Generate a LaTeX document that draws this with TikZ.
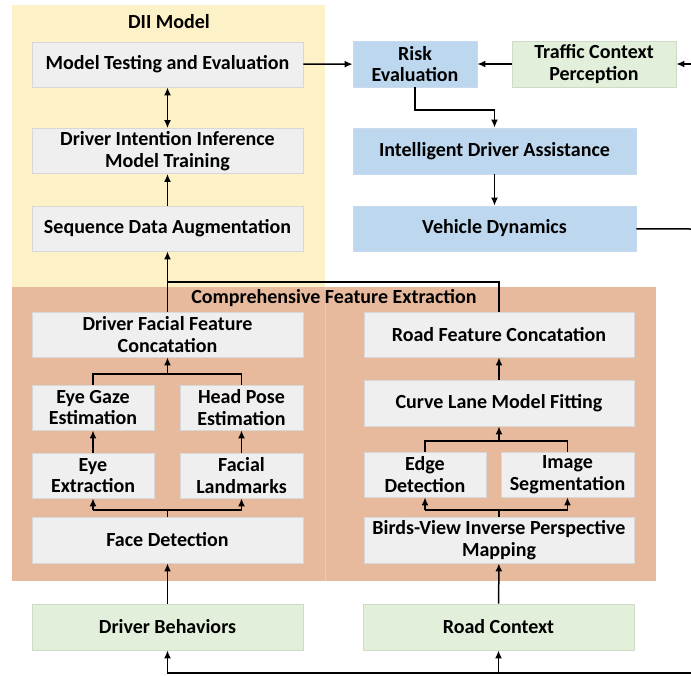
\documentclass[tikz,border=0pt]{standalone}
\usepackage{fontspec}
\setmainfont{Carlito}
\usetikzlibrary{
    arrows.meta,
    positioning,
    backgrounds
}
\definecolor{diiyellow}{RGB}{253,241,199}
\definecolor{cfepeach}{RGB}{231,186,158}
\definecolor{cfeedge}{RGB}{238,200,178}
\definecolor{boxgray}{RGB}{239,239,239}
\definecolor{boxline}{RGB}{215,215,215}
\definecolor{assistblue}{RGB}{189,215,238}
\definecolor{assistline}{RGB}{200,218,235}
\definecolor{inputgreen}{RGB}{226,239,218}
\definecolor{inputline}{RGB}{205,220,195}

\begin{document}
\begin{tikzpicture}[x=1pt, y=-1pt,
    font=\fontsize{20}{21.5}\selectfont\bfseries,
    box/.style={
        rectangle,
        draw=boxline,
        fill=boxgray,
        line width=0.8pt,
        align=center,
        inner sep=0pt,
        minimum height=45pt
    },
    bluebox/.style={box, draw=assistline, fill=assistblue},
    greenbox/.style={box, draw=inputline, fill=inputgreen},
    title/.style={font=\fontsize{20}{21.5}\selectfont\bfseries},
    arrow/.style={-{Latex[length=8pt,width=7pt]}, line width=1.5pt, black},
    dblarrow/.style={{Latex[length=8pt,width=7pt]}-{Latex[length=8pt,width=7pt]}, line width=1.5pt, black},
    line/.style={line width=1.5pt, black}
]
\useasboundingbox (0,0) rectangle (691,675);

% ===== background panels =====
\fill[diiyellow] (12,5) rectangle (325,287);
\fill[cfepeach] (12,287) rectangle (325,581);
\fill[cfepeach] (325,287) rectangle (656,581);
\draw[cfeedge, line width=0.6pt] (325,287) -- (325,581);
\node[title] (diit) at (169,22) {DII Model};
\node[title] (cfet) at (334,298) {Comprehensive Feature Extraction};

% ===== DII model =====
\node[box, minimum width=271pt] (mte) at (167.5,64.5) {Model Testing and Evaluation};
\node[box, minimum width=271pt] (diim) at (167.5,151) {Driver Intention Inference\\Model Training};
\node[box, minimum width=271pt] (sda) at (167.5,228.5) {Sequence Data Augmentation};

% ===== assistance chain =====
\node[bluebox, minimum width=124pt, minimum height=46pt] (risk) at (415,64) {Risk\\Evaluation};
\node[greenbox, minimum width=164pt, minimum height=46pt] (traffic) at (594,64) {Traffic Context\\Perception};
\node[bluebox, minimum width=283pt, minimum height=46pt] (ida) at (494.5,151) {Intelligent Driver Assistance};
\node[bluebox, minimum width=283pt] (vd) at (494.5,228.5) {Vehicle Dynamics};

% ===== driver features =====
\node[box, minimum width=271pt] (dffc) at (167.5,334.5) {Driver Facial Feature\\Concatation};
\node[box, minimum width=122pt] (gaze) at (93,407.5) {Eye Gaze\\Estimation};
\node[box, minimum width=123pt] (head) at (241.5,407.5) {Head Pose\\Estimation};
\node[box, minimum width=122pt] (eyeext) at (93,475.5) {Eye\\Extraction};
\node[box, minimum width=123pt] (landm) at (241.5,475.5) {Facial\\Landmarks};
\node[box, minimum width=271pt, minimum height=46pt] (face) at (167.5,540) {Face Detection};

% ===== road features =====
\node[box, minimum width=270pt] (rfc) at (499,334.5) {Road Feature Concatation};
\node[box, minimum width=270pt, minimum height=46pt] (clmf) at (499,403) {Curve Lane Model Fitting};
\node[box, minimum width=122pt] (edge) at (425,474.5) {Edge\\Detection};
\node[box, minimum width=133pt] (seg) at (567.5,474.5) {Image\\Segmentation};
\node[box, minimum width=270pt, minimum height=46pt] (bev) at (499,540) {Birds-View Inverse Perspective\\Mapping};

% ===== inputs =====
\node[greenbox, minimum width=271pt, minimum height=46pt] (driver) at (167.5,627) {Driver Behaviors};
\node[greenbox, minimum width=271pt, minimum height=46pt] (road) at (498.5,627) {Road Context};

% free ends at the picture edge
\coordinate (trafficin) at (691,64);
\coordinate (vdout) at (691,229);
\coordinate (loopR) at (691,673);

% ===== connectors =====
\draw[arrow] (mte) -- (risk);
\draw[arrow] (traffic) -- (risk);
\draw[arrow] (trafficin) -- (traffic);
\draw[arrow] (risk.south) |- (494.5,110) -- (ida.north);
\draw[arrow] (ida) -- (vd);
\draw[line] (vd) -- (vdout);
\draw[line] (loopR) -| (road.south |- loopR);
\draw[arrow] (loopR) -| (driver.south);
\draw[arrow] (road.south |- loopR) -- (road.south);

\draw[dblarrow] (diim) -- (mte);
\draw[arrow] (sda) -- (diim);
\draw[arrow] (dffc) -- (sda);
\draw[line] (rfc.north) |- (167.5,282);

\draw[arrow] (driver) -- (face);
\draw[line] (face.north) -- (167.5,510);
\draw[arrow] (eyeext.south |- 0,510) -- (eyeext.south);
\draw[line] (eyeext.south |- 0,510) -- (landm.south |- 0,510);
\draw[arrow] (landm.south |- 0,510) -- (landm.south);
\draw[arrow] (eyeext) -- (gaze);
\draw[arrow] (landm) -- (head);
\draw[line] (gaze.north) |- (head.north |- 0,374) -- (head.north);
\draw[arrow] (167.5,374) -- (dffc.south);

\draw[arrow] (road) -- (bev);
\draw[line] (bev.north) -- (499,510);
\draw[line] (edge.south |- 0,510) -- (seg.south |- 0,510);
\draw[arrow] (edge.south |- 0,510) -- (edge.south);
\draw[arrow] (seg.south |- 0,510) -- (seg.south);
\draw[line] (edge.north) |- (seg.north |- 0,441) -- (seg.north);
\draw[arrow] (499,441) -- (clmf.south);
\draw[arrow] (clmf) -- (rfc);

\end{tikzpicture}
\end{document}
